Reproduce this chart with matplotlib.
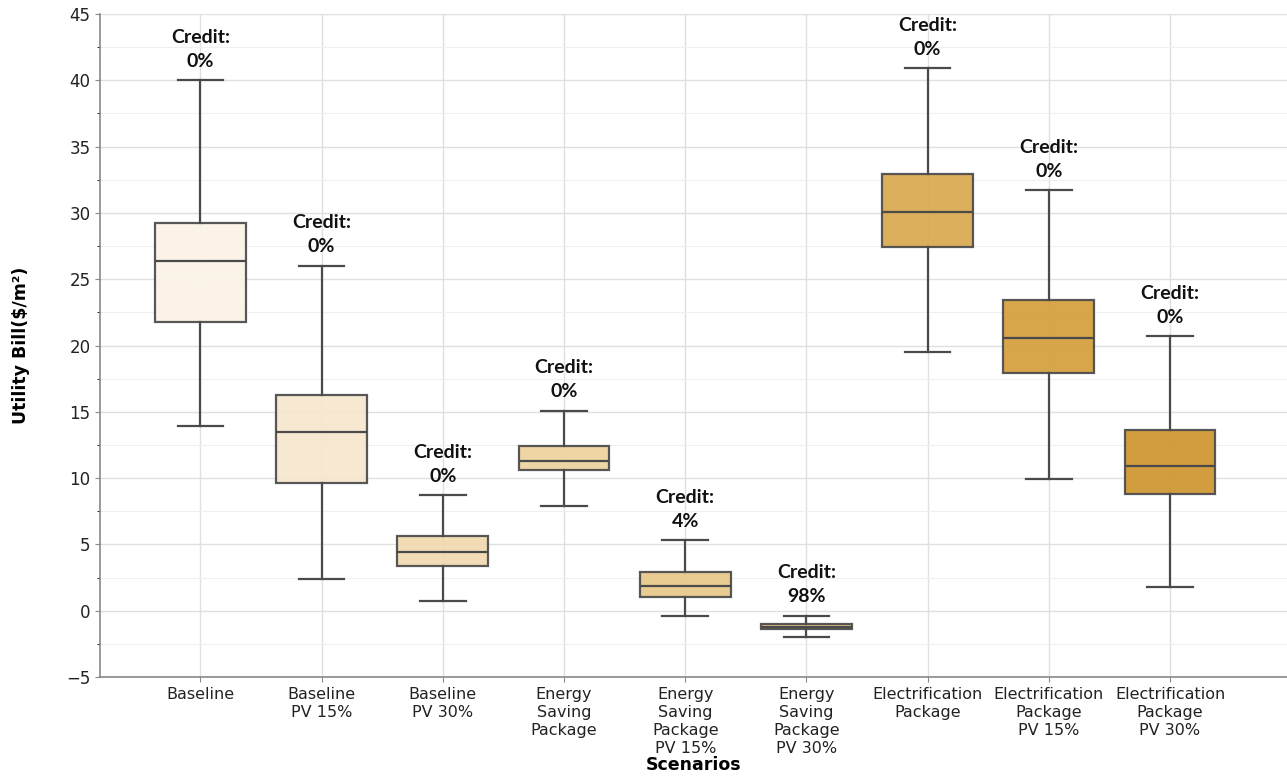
import matplotlib.pyplot as plt
from matplotlib.ticker import MultipleLocator

# Scenario labels and summary statistics (whisker low, Q1, median, Q3, whisker high)
scenarios = ["Baseline", "Baseline\nPV 15%", "Baseline\nPV 30%",
             "Energy\nSaving\nPackage", "Energy\nSaving\nPackage\nPV 15%",
             "Energy\nSaving\nPackage\nPV 30%", "Electrification\nPackage",
             "Electrification\nPackage\nPV 15%", "Electrification\nPackage\nPV 30%"]
whisker_low = [13.9, 2.4, 0.7, 7.9, -0.4, -2.0, 19.5, 9.9, 1.8]
q1 = [21.8, 9.6, 3.4, 10.6, 1.05, -1.4, 27.4, 17.9, 8.8]
median = [26.4, 13.5, 4.4, 11.3, 1.9, -1.2, 30.1, 20.6, 10.9]
q3 = [29.25, 16.3, 5.6, 12.4, 2.9, -1.0, 32.9, 23.4, 13.6]
whisker_high = [40.0, 26.0, 8.7, 15.1, 5.3, -0.4, 40.9, 31.7, 20.7]
credit = ["0%", "0%", "0%", "0%", "4%", "98%", "0%", "0%", "0%"]

box_colors = ["#fbf3e6", "#f6e6cd", "#f0d9b0", "#edd39c", "#e7c888",
              "#dfbf7e", "#d9a84e", "#d49f3b", "#cf952d"]

fig = plt.figure(figsize=(12.87, 7.8), dpi=100)
ax = fig.add_axes([0.078, 0.132, 0.922, 0.85])

stats = []
for i in range(len(scenarios)):
    stats.append({"whislo": whisker_low[i], "q1": q1[i], "med": median[i],
                  "q3": q3[i], "whishi": whisker_high[i], "fliers": []})

line_col = "#4a4a4a"
bp = ax.bxp(stats, positions=range(len(scenarios)), widths=0.75,
            patch_artist=True, showfliers=False,
            boxprops=dict(edgecolor=line_col, linewidth=1.6),
            medianprops=dict(color=line_col, linewidth=1.6),
            whiskerprops=dict(color=line_col, linewidth=1.6),
            capprops=dict(color=line_col, linewidth=1.6))
for patch, c in zip(bp["boxes"], box_colors):
    patch.set_facecolor(c)
    patch.set_alpha(0.92)
    patch.set_edgecolor(line_col)

for i, c in enumerate(credit):
    ax.text(i, whisker_high[i] + 0.8, "Credit:\n" + c, ha="center", va="bottom",
            fontsize=14, fontfamily="Lato", fontweight="bold",
            linespacing=1.5, color="#111111")

ax.set_xlim(-0.825, 8.965)
ax.set_ylim(-5, 45)
ax.yaxis.set_major_locator(MultipleLocator(5))
ax.yaxis.set_minor_locator(MultipleLocator(2.5))
ax.set_xticks(range(len(scenarios)))
ax.set_xticklabels(scenarios, fontsize=11.5, color="#222222", linespacing=1.25)
ax.tick_params(axis="y", labelsize=12, colors="#222222")
ax.tick_params(axis="both", which="major", color="#888888")

ax.grid(True, which="major", color="#e0e0e0", linewidth=1.0)
ax.grid(True, which="minor", axis="y", color="#f0f0f0", linewidth=0.8)
ax.set_axisbelow(True)
for side in ["top", "right"]:
    ax.spines[side].set_visible(False)
for side in ["left", "bottom"]:
    ax.spines[side].set_color("#888888")
    ax.spines[side].set_linewidth(1.2)

ax.set_ylabel("Utility Bill($/m²)", fontsize=12.5, fontweight="bold", labelpad=26)
ax.set_xlabel("Scenarios", fontsize=12.5, fontweight="bold", labelpad=0)

fig.savefig("out.png", dpi=100)
